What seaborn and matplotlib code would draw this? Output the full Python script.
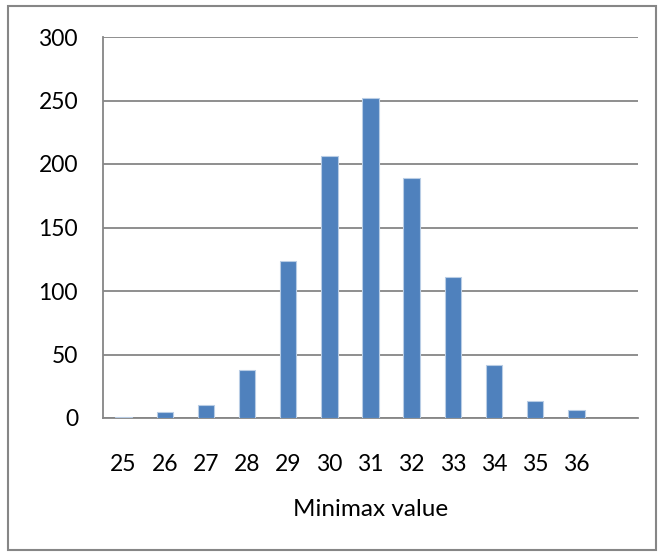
import matplotlib
matplotlib.use('Agg')
import matplotlib.pyplot as plt
import seaborn as sns
import pandas as pd
from matplotlib.patches import Rectangle
from matplotlib.ticker import FixedLocator, MultipleLocator

# minimax value counts
minimax = ['25', '26', '27', '28', '29', '30', '31', '32', '33', '34', '35', '36']
counts = [1, 5, 10, 38, 124, 206, 252, 189, 111, 42, 13, 6]

BAR = '#4F81BD'
GREY = '#868686'

sns.set_style('white')
plt.rcParams['font.family'] = ['Lato', 'DejaVu Sans']
plt.rcParams['text.color'] = 'black'
plt.rcParams['xtick.labelcolor'] = 'black'
plt.rcParams['ytick.labelcolor'] = 'black'
plt.rcParams['axes.labelcolor'] = 'black'

df = pd.DataFrame({'value': minimax, 'count': counts})
# Excel leaves one empty category slot after 36
order = minimax + [' ']

fig = plt.figure(figsize=(6.64, 5.58), dpi=100)
ax = fig.add_axes([103 / 664, 1 - 418 / 558, 535 / 664, 381 / 558])

sns.barplot(data=df, x='value', y='count', order=order, color=BAR,
            width=0.40, saturation=1, edgecolor='#b9cde5', linewidth=0.8,
            ax=ax, zorder=3)

ax.set_xlim(-0.5, len(order) - 0.5)
ax.set_ylim(0, 300)
ax.yaxis.set_major_locator(MultipleLocator(50))
ax.grid(axis='y', color=GREY, linewidth=1.3, zorder=0)
ax.set_axisbelow(True)

for side in ['top', 'right']:
    ax.spines[side].set_visible(False)
for side in ['left', 'bottom']:
    ax.spines[side].set_color(GREY)
    ax.spines[side].set_linewidth(1.3)

# category boundary ticks on the x axis
ax.xaxis.set_minor_locator(FixedLocator([i - 0.5 for i in range(len(order) + 1)]))
ax.tick_params(axis='x', which='major', length=0, pad=26, labelsize=16.5)
ax.tick_params(axis='x', which='minor', length=6, width=1.3, color=GREY, direction='out')
ax.tick_params(axis='y', which='major', length=6, width=1.3, color=GREY, pad=12, labelsize=16.5)

ax.set_xlabel('Minimax value', fontsize=17.5, labelpad=17)
ax.set_ylabel('')

# outer chart border
fig.patches.append(Rectangle((8 / 664, 8 / 558), 648 / 664, 544 / 558,
                             transform=fig.transFigure, fill=False,
                             edgecolor=GREY, linewidth=1.5))

fig.savefig('out.png', dpi=100)
